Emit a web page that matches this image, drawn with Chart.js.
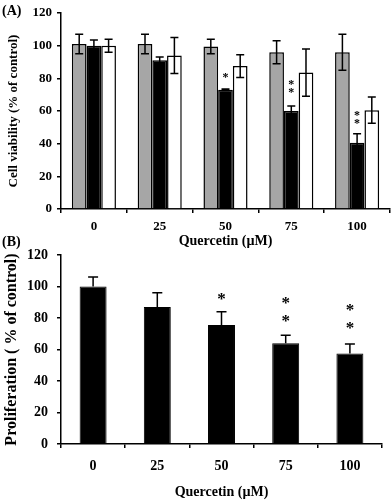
<!DOCTYPE html>
<html>
<head>
<meta charset="utf-8">
<script src="https://cdn.jsdelivr.net/npm/chart.js@4"></script>
<style>
  html, body { margin: 0; padding: 0; background: #fff; }
  #wrap { position: relative; width: 392px; height: 501px; }
  .panel { position: absolute; left: 0; width: 392px; }
  #panelA { top: 0; height: 250px; }
  #panelB { top: 242px; height: 259px; }
  .tag { position: absolute; left: 2px; font: bold 14px "Liberation Serif", serif; color: #000; }
</style>
</head>
<body>
<div id="wrap">
  <div class="panel" id="panelA"><canvas id="chartA"></canvas></div>
  <div class="panel" id="panelB"><canvas id="chartB"></canvas></div>
  <div class="tag" style="top:3px">(A)</div>
  <div class="tag" style="top:234px">(B)</div>
</div>
<script>
/* DATA */
const doses = ["0", "25", "50", "75", "100"];

// panel A - three series
const grayA = [101, 101, 99.5, 96, 96];
const grayErrA = [6, 6, 4.5, 7, 11];
const blackA = [100, 91, 73, 60, 40.5];
const blackErrA = [3.5, 2, 0.5, 3, 5.5];
const whiteA = [100, 94, 87.5, 83.5, 60.5];
const whiteErrA = [4, 11, 7, 14.5, 8];
const starCountA = [0, 0, 1, 2, 2];
const starValA = [null, null, 82, 77.5, 58.5];

// panel B - one series, upper error only
const prolifB = [100, 87, 75.5, 64, 57.5];
const prolifErrB = [6, 9, 8.5, 5, 6];
const starCountB = [0, 0, 1, 2, 2];
const starValB = [null, null, 94, 92, 87];

const yTicks = [0, 20, 40, 60, 80, 100, 120];

const serif = "'Liberation Serif', 'Times New Roman', serif";


/* ERROR BARS */
const errorBars = {
    id: "errorBars",
    afterDatasetsDraw(chart, args, opts) {
        const ctx = chart.ctx;
        const y = chart.scales.y;
        ctx.save();
        ctx.strokeStyle = "#000";
        ctx.lineWidth = 1.5;
        chart.data.datasets.forEach((ds, i) => {
            if (!ds.errors) return;
            const meta = chart.getDatasetMeta(i);
            meta.data.forEach((bar, j) => {
                const v = ds.data[j], e = ds.errors[j];
                const yTop = y.getPixelForValue(v + e);
                const yBot = opts.upperOnly ? y.getPixelForValue(v) : y.getPixelForValue(v - e);
                const x = bar.x;
                ctx.beginPath();
                ctx.moveTo(x, yTop); ctx.lineTo(x, yBot);
                ctx.moveTo(x - opts.cap, yTop); ctx.lineTo(x + opts.cap, yTop);
                if (!opts.upperOnly) {
                    ctx.moveTo(x - opts.cap, yBot); ctx.lineTo(x + opts.cap, yBot);
                }
                ctx.stroke();
            });
        });
        ctx.restore();
    }
};


/* SIGNIFICANCE STARS */
const stars = {
    id: "stars",
    afterDatasetsDraw(chart, args, opts) {
        const ctx = chart.ctx;
        const y = chart.scales.y;
        const meta = chart.getDatasetMeta(opts.dataset);
        ctx.save();
        ctx.fillStyle = "#000";
        ctx.font = "bold " + opts.size + "px " + serif;
        ctx.textAlign = "center";
        ctx.textBaseline = "alphabetic";
        opts.counts.forEach((n, j) => {
            if (!n) return;
            const x = meta.data[j].x;
            const top = y.getPixelForValue(opts.values[j]);
            for (let k = 0; k < n; k++) {
                ctx.fillText("*", x, top + k * opts.gap + opts.size * 0.5);
            }
        });
        ctx.restore();
    }
};


function axisOptions(cfg) {
    return {
        x: {
            grid: { display: true, drawOnChartArea: false, drawTicks: true, tickLength: 4, color: "#000", lineWidth: 1.5 },
            border: { display: true, color: "#000", width: 1.5 },
            ticks: { color: "#000", padding: cfg.xPad, font: { family: serif, size: cfg.xTickSize, weight: "bold" } },
            title: { display: true, text: "Quercetin (\u00b5M)", color: "#000", padding: { top: cfg.xTitlePad, bottom: 0 },
                     font: { family: serif, size: 14, weight: "bold" } },
            afterFit: s => { s.height = cfg.xHeight; }
        },
        y: {
            min: 0, max: 120,
            afterBuildTicks: s => { s.ticks = yTicks.map(v => ({ value: v })); },
            grid: { display: true, drawOnChartArea: false, drawTicks: true, tickLength: 4, color: "#000", lineWidth: 1.5 },
            border: { display: true, color: "#000", width: 1.5 },
            ticks: { color: "#000", padding: cfg.yPad, font: { family: serif, size: cfg.yTickSize, weight: "bold" } },
            title: { display: true, text: cfg.yTitle, color: "#000", padding: { top: cfg.yTitlePad, bottom: 0 },
                     font: { family: serif, size: cfg.yTitleSize, weight: "bold" } },
            afterFit: s => { s.width = 61; s.paddingTop = 0; s.paddingBottom = 0; }
        }
    };
}


/* PANEL A */
new Chart(document.getElementById("chartA"), {
    type: "bar",
    data: {
        labels: doses,
        datasets: [
            { data: grayA, errors: grayErrA, backgroundColor: "#a6a6a6", borderColor: "#000", borderWidth: 1.5 },
            { data: blackA, errors: blackErrA, backgroundColor: "#000", borderColor: "#000", borderWidth: 1.5 },
            { data: whiteA, errors: whiteErrA, backgroundColor: "#fff", borderColor: "#000", borderWidth: 1.5 }
        ]
    },
    options: {
        responsive: true,
        maintainAspectRatio: false,
        animation: false,
        layout: { padding: { left: 0, right: 2, top: 13, bottom: 0 } },
        datasets: { bar: { categoryPercentage: 0.67, barPercentage: 1.0 } },
        plugins: {
            legend: { display: false },
            tooltip: { enabled: false },
            errorBars: { cap: 4, upperOnly: false },
            stars: { dataset: 1, counts: starCountA, values: starValA, gap: 8, size: 12 }
        },
        scales: axisOptions({
            xPad: 6, xTickSize: 13, xHeight: 41, xTitlePad: 5,
            yPad: 5, yTickSize: 13,
            yTitle: "Cell viability (% of control)", yTitleSize: 13, yTitlePad: 6
        })
    },
    plugins: [errorBars, stars]
});


/* PANEL B */
new Chart(document.getElementById("chartB"), {
    type: "bar",
    data: {
        labels: doses,
        datasets: [
            { data: prolifB, errors: prolifErrB, backgroundColor: "#000", borderColor: "#000", borderWidth: 1 }
        ]
    },
    options: {
        responsive: true,
        maintainAspectRatio: false,
        animation: false,
        layout: { padding: { left: 0, right: 10, top: 13, bottom: 0 } },
        datasets: { bar: { categoryPercentage: 1.0, barPercentage: 0.42 } },
        plugins: {
            legend: { display: false },
            tooltip: { enabled: false },
            errorBars: { cap: 5, upperOnly: true },
            stars: { dataset: 0, counts: starCountB, values: starValB, gap: 18, size: 17 }
        },
        scales: axisOptions({
            xPad: 10, xTickSize: 14, xHeight: 57, xTitlePad: 6,
            yPad: 9, yTickSize: 14,
            yTitle: "Proliferation ( % of control)", yTitleSize: 16, yTitlePad: 2
        })
    },
    plugins: [errorBars, stars]
});
</script>
</body>
</html>
